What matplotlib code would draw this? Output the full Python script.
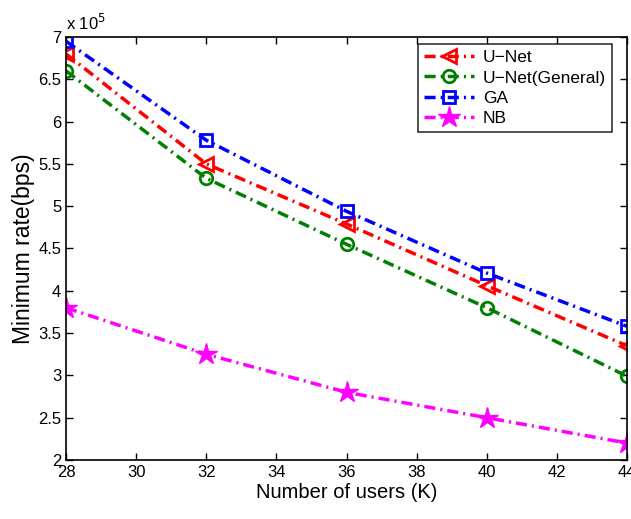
import matplotlib
matplotlib.use("Agg")
import matplotlib.pyplot as plt

plt.rcParams['font.family'] = ['Liberation Sans', 'DejaVu Sans']

users = [28, 32, 36, 40, 44]
unet = [6.80, 5.50, 4.79, 4.06, 3.35]
unet_general = [6.60, 5.33, 4.55, 3.80, 2.99]
ga = [6.95, 5.78, 4.94, 4.21, 3.58]
nb = [3.80, 3.25, 2.80, 2.50, 2.20]

fig = plt.figure(figsize=(6.31, 5.19), dpi=100)
ax = fig.add_axes([0.1046, 0.1137, 0.8891, 0.815])

lw = 2.5
dd = (3.2, 1.45, 0.6, 1.45)
common = dict(lw=lw, dashes=dd)
ax.plot(users, unet, color='red', marker='<', ms=10, mfc='none', mec='red', mew=2,
        label='U\u2212Net', **common)
ax.plot(users, unet_general, color='green', marker='o', ms=9, mfc='none', mec='green', mew=2,
        label='U\u2212Net(General)', **common)
ax.plot(users, ga, color='blue', marker='s', ms=8, mfc='none', mec='blue', mew=2,
        label='GA', **common)
ax.plot(users, nb, color='magenta', marker='*', ms=16, mfc='magenta', mec='magenta',
        label='NB', **common)

ax.set_xlim(28, 44)
ax.set_ylim(2, 7)
ax.set_xticks(range(28, 45, 2))
ax.set_yticks([2, 2.5, 3, 3.5, 4, 4.5, 5, 5.5, 6, 6.5, 7])
ax.set_yticklabels(['2', '2.5', '3', '3.5', '4', '4.5', '5', '5.5', '6', '6.5', '7'])
ax.tick_params(direction='in', top=True, right=True, labelsize=12, length=5, width=1)
for s in ax.spines.values():
    s.set_linewidth(1.2)

ax.set_xlabel('Number of users (K)', fontsize=14.5, labelpad=2)
ax.set_ylabel('Minimum rate(bps)', fontsize=16.5, labelpad=2)
ax.text(0.0, 1.01, 'x 10$^5$', transform=ax.transAxes, fontsize=12, ha='left', va='bottom')

leg = ax.legend(loc='upper right', fontsize=12.5, frameon=True, fancybox=False,
                edgecolor='black', handlelength=2.9, handletextpad=0.5, borderpad=0.35,
                labelspacing=0.3, borderaxespad=0,
                bbox_to_anchor=(0.9733, 0.9835))
leg.get_frame().set_linewidth(1.2)

fig.savefig('out.png', dpi=100)
